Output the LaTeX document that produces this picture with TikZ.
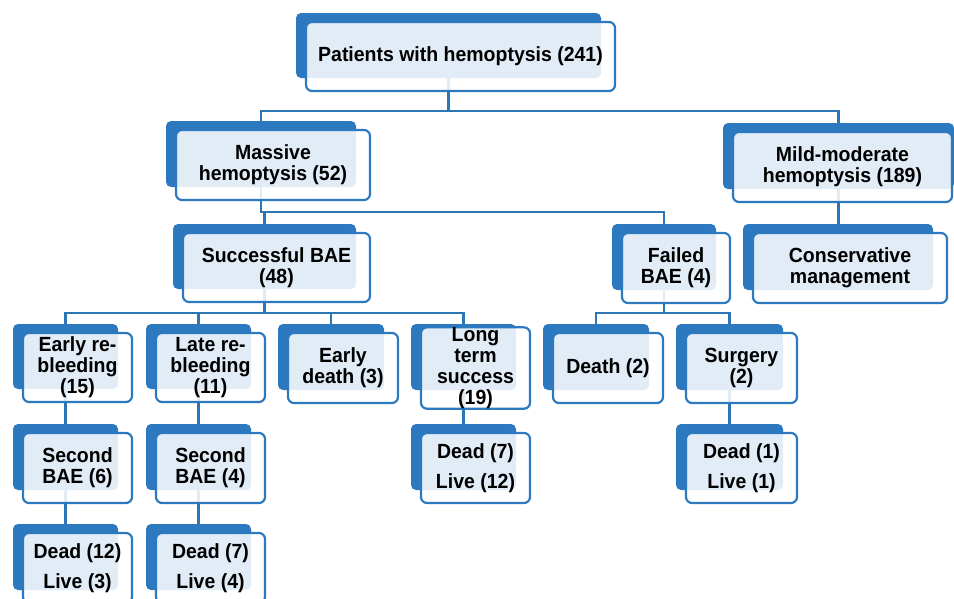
\documentclass[tikz,border=0pt]{standalone}
\usepackage{fontspec}
\setmainfont{Liberation Sans}[FakeStretch=0.95]
\usetikzlibrary{backgrounds}
\definecolor{bl}{RGB}{44,121,192}
\definecolor{ln}{RGB}{46,117,182}
\tikzset{
  backbox/.style={fill=bl, draw=none, rounded corners=5pt, inner sep=0pt},
  frontbox/.style={draw=bl, line width=2.2pt, fill=white, fill opacity=0.86, text opacity=1,
    rounded corners=6pt, inner sep=0pt, align=center, text=black,
    font=\bfseries\fontsize{20.5}{21}\selectfont},
  conn/.style={draw=ln, line width=2.4pt},
}
% #1 extra back width, #2 name, #3 cx, #4 cy, #5 w, #6 h, #7 text
\newcommand\bx[7][0]{%
  \node[backbox, minimum width={#5pt-4pt+#1pt}, minimum height={#6pt-4pt}] (#2b) at ({#3-12+#1/2},{#4-11}) {};
  \node[frontbox, minimum width=#5pt, minimum height=#6pt] (#2) at (#3,#4) {#7};
}
\begin{document}
\begin{tikzpicture}[x=1pt,y=-1pt]
\useasboundingbox (0,0) rectangle (954,598);
\clip (0,0) rectangle (954,598);

\bx{top}{460.5}{56.5}{309}{69}{Patients with hemoptysis (241)}
\bx{mass}{273}{165}{194}{70}{Massive\\hemoptysis (52)}
\bx[16]{mild}{842.5}{167}{219}{70}{Mild-moderate\\hemoptysis (189)}
\bx{succ}{276.5}{267.5}{187}{69}{Successful BAE\\(48)}
\bx{fail}{676}{268}{108}{70}{Failed\\BAE (4)}
\bx{cons}{850}{268}{194}{70}{Conservative\\management}
\bx{ebl}{77.5}{367.5}{109}{69}{Early re-\\bleeding\\(15)}
\bx{lbl}{210.5}{367.5}{109}{69}{Late re-\\bleeding\\(11)}
\bx{ed}{343}{368}{110}{70}{Early\\death (3)}
\bx{lt}{475.5}{368}{109}{70}{Long\\term\\success\\(19)}
\bx{dth}{608}{368}{110}{70}{Death (2)}
\bx{surg}{741.5}{368}{111}{70}{Surgery\\(2)}
\bx{sba}{77.5}{468}{109}{70}{Second\\BAE (6)}
\bx{sbb}{210.5}{468}{109}{70}{Second\\BAE (4)}
\bx{ltdl}{475.5}{468}{109}{70}{Dead (7)\\[9pt]Live (12)}
\bx{sgdl}{741.5}{468}{111}{70}{Dead (1)\\[9pt]Live (1)}
\bx{da}{77.5}{568}{109}{70}{Dead (12)\\[9pt]Live (3)}
\bx{db}{210.5}{568}{109}{70}{Dead (7)\\[9pt]Live (4)}

\begin{scope}[on background layer]
  \coordinate (h1) at (0,111);
  \coordinate (h2) at (0,212);
  \coordinate (h3) at (0,313);
  \draw[conn] (topb.south) -- (topb.south |- h1) -| (massb.north);
  \draw[conn] (topb.south |- h1) -| (mildb.north);
  \draw[conn] (massb.south) -- (massb.south |- h2) -| (succb.north);
  \draw[conn] (massb.south |- h2) -| (failb.north);
  \draw[conn] (mildb.south) -- (mildb.south |- consb.north);
  \draw[conn] (succb.south) -- (succb.south |- h3) -| (eblb.north);
  \draw[conn] (succb.south |- h3) -| (lblb.north);
  \draw[conn] (succb.south |- h3) -| (edb.north);
  \draw[conn] (succb.south |- h3) -| (ltb.north);
  \draw[conn] (failb.south) -- (failb.south |- h3) -| (dthb.north);
  \draw[conn] (failb.south |- h3) -| (surgb.north);
  \draw[conn] (eblb.south) -- (sbab.north);
  \draw[conn] (lblb.south) -- (sbbb.north);
  \draw[conn] (ltb.south) -- (ltdlb.north);
  \draw[conn] (surgb.south) -- (sgdlb.north);
  \draw[conn] (sbab.south) -- (dab.north);
  \draw[conn] (sbbb.south) -- (dbb.north);
\end{scope}
\end{tikzpicture}
\end{document}
